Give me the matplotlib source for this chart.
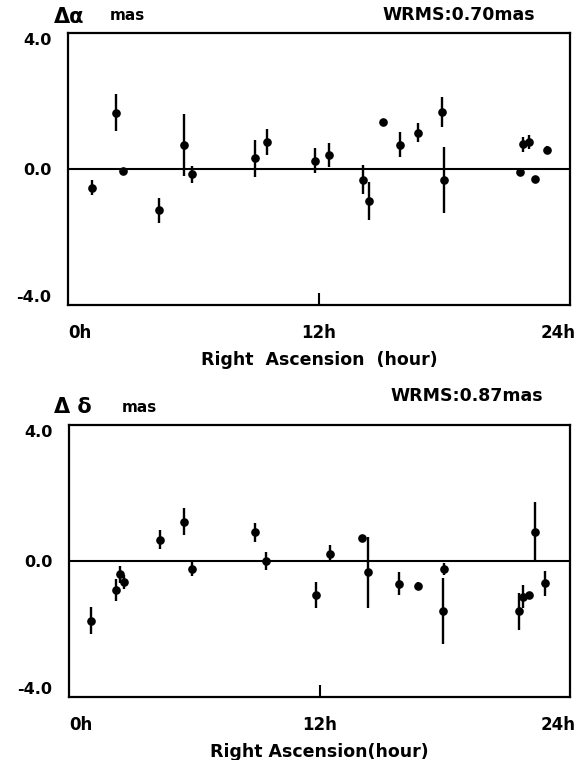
import matplotlib
matplotlib.use("Agg")
import matplotlib.pyplot as plt
import matplotlib.transforms as mtransforms

plt.rcParams['font.family'] = ['DejaVu Sans']
plt.rcParams['font.weight'] = 'bold'

# ---- data: Right Ascension (hour), offsets (mas), errors (mas) ----
ra_alpha = [1.13, 2.29, 2.65, 4.37, 5.55, 5.94, 8.94, 9.50, 11.81, 12.49, 14.09,
            14.39, 15.06, 15.86, 16.75, 17.88, 17.99, 21.61, 21.74, 22.05, 22.33, 22.89]
d_alpha = [-0.55, 1.66, -0.06, -1.22, 0.71, -0.16, 0.31, 0.80, 0.24, 0.41, -0.31,
           -0.94, 1.39, 0.71, 1.07, 1.68, -0.32, -0.08, 0.73, 0.79, -0.28, 0.56]
e_alpha = [0.22, 0.54, 0.08, 0.38, 0.92, 0.26, 0.55, 0.39, 0.37, 0.35, 0.42,
           0.55, 0.08, 0.37, 0.29, 0.43, 0.98, 0.08, 0.22, 0.20, 0.08, 0.12]

ra_delta = [1.05, 2.23, 2.44, 2.64, 4.35, 5.50, 5.89, 8.92, 9.43, 11.81, 12.49,
            14.05, 14.32, 15.83, 16.74, 17.98, 17.90, 21.55, 21.74, 22.02, 22.32, 22.80]
d_delta = [-1.75, -0.85, -0.39, -0.61, 0.63, 1.16, -0.23, 0.84, 0.00, -1.00, 0.22,
           0.69, -0.33, -0.67, -0.73, -0.23, -1.47, -1.48, -1.05, -1.00, 0.85, -0.66]
e_delta = [0.40, 0.32, 0.25, 0.21, 0.29, 0.39, 0.21, 0.27, 0.27, 0.39, 0.25,
           0.08, 1.04, 0.34, 0.10, 0.17, 0.97, 0.55, 0.34, 0.08, 0.88, 0.36]

xtick_vals = [0, 12, 24]
xtick_labels = ['0h', '12h', '24h']
ytick_vals = [-4, 0, 4]
ytick_labels = ['-4.0', '0.0', '4.0']

W, H = 575, 760
fig = plt.figure(figsize=(W / 100, H / 100), dpi=100)


def px_axes(left, top, right, bottom):
    return fig.add_axes([left / W, 1 - bottom / H, (right - left) / W, (bottom - top) / H])


def style_panel(ax, ra, val, err, xlabel):
    ax.errorbar(ra, val, yerr=err, fmt='o', color='black', ms=5.2,
                elinewidth=1.7, capsize=0, zorder=3)
    ax.axhline(0, color='black', lw=1.5, zorder=2)
    ax.set_xlim(0, 24)
    ax.set_ylim(-4, 4)
    for s in ax.spines.values():
        s.set_linewidth(1.6)
    ax.set_yticks(ytick_vals, ytick_labels)
    ax.tick_params(axis='y', length=0, pad=12, labelsize=11.5)
    yl = ax.get_yticklabels()
    yl[0].set_va('bottom')
    yl[2].set_va('top')
    ax.set_xticks(xtick_vals, xtick_labels)
    ax.tick_params(axis='x', direction='in', length=8.5, width=1.5, pad=14, labelsize=12)
    ticks = ax.xaxis.get_major_ticks()
    ticks[0].tick1line.set_visible(False)
    ticks[2].tick1line.set_visible(False)
    xl = ax.get_xticklabels()
    xl[0].set_ha('left')
    xl[2].set_ha('right')
    xl[2].set_transform(xl[2].get_transform() +
                        mtransforms.ScaledTranslation(4 / 72, 0, fig.dpi_scale_trans))
    ax.set_xlabel(xlabel, fontsize=12.5, fontweight='bold', labelpad=6)


ax1 = px_axes(68, 33, 570, 305)
style_panel(ax1, ra_alpha, d_alpha, e_alpha, 'Right  Ascension  (hour)')
ax2 = px_axes(69, 425, 570, 697)
style_panel(ax2, ra_delta, d_delta, e_delta, 'Right Ascension(hour)')

fig.text(54 / W, 1 - 17 / H, 'Δα', fontsize=15, fontweight='bold', va='center', ha='left')
fig.text(110 / W, 1 - 16 / H, 'mas', fontsize=11, fontweight='bold', va='center', ha='left')
fig.text(382 / W, 1 - 15 / H, 'WRMS:0.70mas', fontsize=12.5, fontweight='bold',
         va='center', ha='left')

fig.text(54 / W, 1 - 407 / H, 'Δ δ', fontsize=15, fontweight='bold', va='center', ha='left')
fig.text(122 / W, 1 - 408 / H, 'mas', fontsize=11, fontweight='bold', va='center', ha='left')
fig.text(390 / W, 1 - 396 / H, 'WRMS:0.87mas', fontsize=12.5, fontweight='bold',
         va='center', ha='left')

fig.savefig('out.png', dpi=100)
